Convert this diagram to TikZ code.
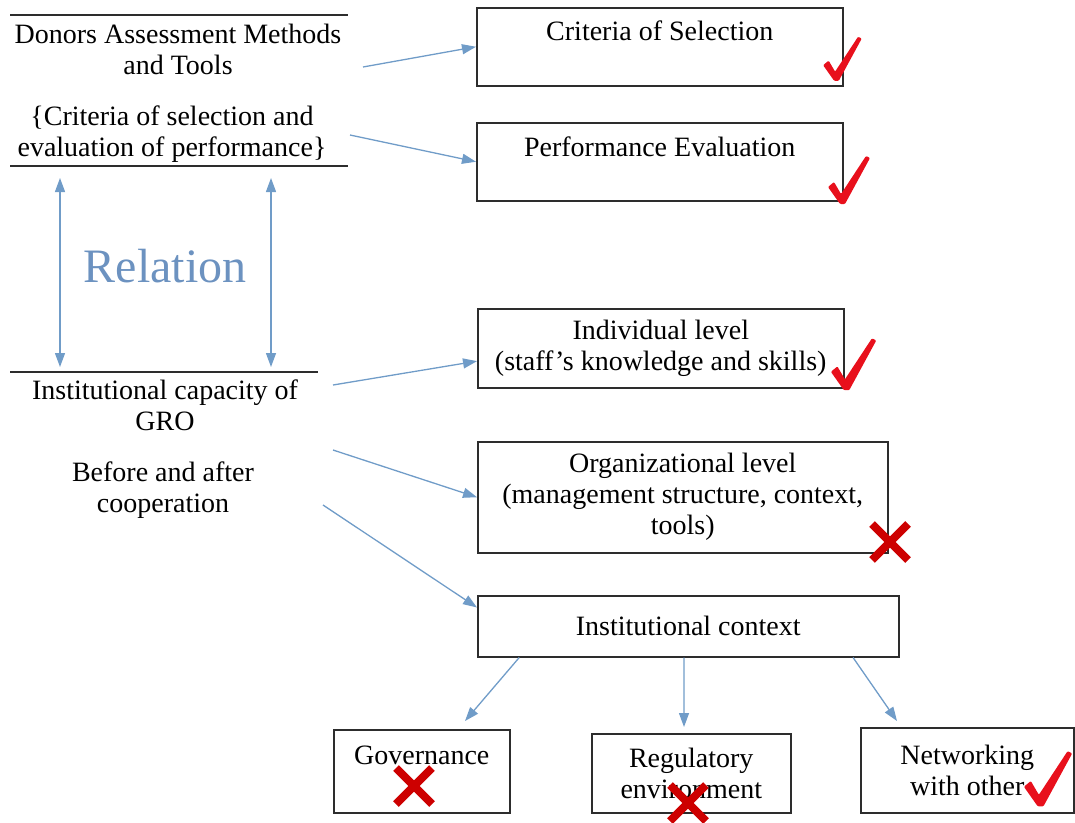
\documentclass[tikz,border=0pt]{standalone}
\usepackage{fontspec}
\setmainfont{Liberation Serif}
\usetikzlibrary{arrows.meta,calc}

\definecolor{flowblue}{RGB}{112,156,200}
\definecolor{relblue}{RGB}{108,146,192}
\definecolor{markred}{RGB}{232,16,28}
\definecolor{crossred}{RGB}{205,0,0}
\definecolor{boxgray}{RGB}{45,45,45}

\tikzset{
  box/.style={draw=boxgray, line width=1.5pt, anchor=north west, inner sep=0pt, align=center, font=\fontsize{28}{31}\selectfont},
  txt/.style={align=center, inner sep=0pt, font=\fontsize{28}{31}\selectfont},
  rule/.style={draw=boxgray, line width=1.5pt},
  flow/.style={draw=flowblue, line width=1.3pt, -{Triangle[length=14pt,width=10pt]}},
  both/.style={draw=flowblue, line width=1.3pt, {Triangle[length=14pt,width=10pt]}-{Triangle[length=14pt,width=10pt]}},
  redtick/.pic={\fill[markred, rounded corners=1pt] (-14,15) -- (-8,20) -- (-1,8) -- (24,46) -- (28,44) -- (3,-2) -- (-2,-2) -- cycle;},
  redcross/.pic={\draw[crossred, line width=8pt] (-18,-18) -- (18,18) (-18,18) -- (18,-18);}
}

\begin{document}
\begin{tikzpicture}[x=1pt,y=1pt,yscale=-1]
\useasboundingbox (0,0) rectangle (1075,822);
\clip (0,0) rectangle (1075,822);

%Shape: Rectangle
\node[box, minimum width=366pt, text height=33pt, text depth=45pt] (selBox) at (476,7) {Criteria of Selection};
%Shape: Rectangle
\node[box, minimum width=366pt, text height=34pt, text depth=44pt] (perfBox) at (476,122) {Performance Evaluation};
%Shape: Rectangle
\node[box, minimum width=366pt, minimum height=79pt] (indBox) at (477,308) {Individual level\\(staff's knowledge and skills)};
%Shape: Rectangle
\node[box, minimum width=410pt, minimum height=111pt] (orgBox) at (477,441) {Organizational level\\(management structure, context,\\tools)};
%Shape: Rectangle
\node[box, minimum width=421pt, minimum height=61pt] (ctxBox) at (477,595) {Institutional context};
%Shape: Rectangle
\node[box, minimum width=176pt, text height=35pt, text depth=48pt] (govBox) at (333,729) {Governance};
%Shape: Rectangle
\node[box, minimum width=199pt, minimum height=79pt] (regBox) at (591,733) {Regulatory\\environment};
%Shape: Rectangle
\node[box, minimum width=213pt, minimum height=85pt] (netBox) at (860,727) {Networking\\with other};

%Straight Lines
\draw[rule] (10,15) -- (348,15);
\draw[rule] (10,166) -- (348,166);
\draw[rule] (10,372) -- (318,372);

% Text Node
\node[txt] (donors) at (178,49) {Donors Assessment Methods\\and Tools};
% Text Node
\node[txt] (criteria) at (172,134) {\{Criteria of selection and\\evaluation of performance\}};
% Text Node
\node[txt, font=\fontsize{48}{52}\selectfont, text=relblue] (relation) at (165,266) {Relation};
% Text Node
\node[txt] (capacity) at (165,405) {Institutional capacity of\\GRO};
% Text Node
\node[txt] (coop) at (163,490) {Before and after\\cooperation};

%Free ends
\coordinate (relTopL) at (60,178);
\coordinate (relBotL) at (60,367);
\coordinate (relTopR) at (271,178);
\coordinate (relBotR) at (271,367);
\coordinate (donorsOut) at (363,67);
\coordinate (criteriaOut) at (350,135);
\coordinate (capacityOut) at (333,385);
\coordinate (orgOut) at (333,450);
\coordinate (ctxOut) at (323,505);
\coordinate (govIn) at (465,721);
\coordinate (regIn) at (684,727);
\coordinate (netIn) at (897,721);

%Straight Lines
\draw[both] (relTopL) -- (relBotL);
\draw[both] (relTopR) -- (relBotR);
\draw[flow] (donorsOut) -- (selBox.west);
\draw[flow] (criteriaOut) -- (perfBox.west);
\draw[flow] (capacityOut) -- ($(indBox.north west)!0.66!(indBox.south west)$);
\draw[flow] (orgOut) -- (orgBox.west);
\draw[flow] (ctxOut) -- ($(ctxBox.north west)!0.2!(ctxBox.south west)$);
\draw[flow] ($(ctxBox.south west)!0.1!(ctxBox.south east)$) -- (govIn);
\draw[flow] ($(ctxBox.south west)!0.49!(ctxBox.south east)$) -- (regIn);
\draw[flow] ($(ctxBox.south west)!0.89!(ctxBox.south east)$) -- (netIn);

%Shape: Marks
\pic[scale=0.92] at (836,79) {redtick};
\pic[scale=1.0] at (842,202) {redtick};
\pic[scale=1.08] at (846,388) {redtick};
\pic[scale=1.15] at (1040,804) {redtick};
\pic at (890,542) {redcross};
\pic at (414,786) {redcross};
\pic at (688,803) {redcross};

\end{tikzpicture}
\end{document}
